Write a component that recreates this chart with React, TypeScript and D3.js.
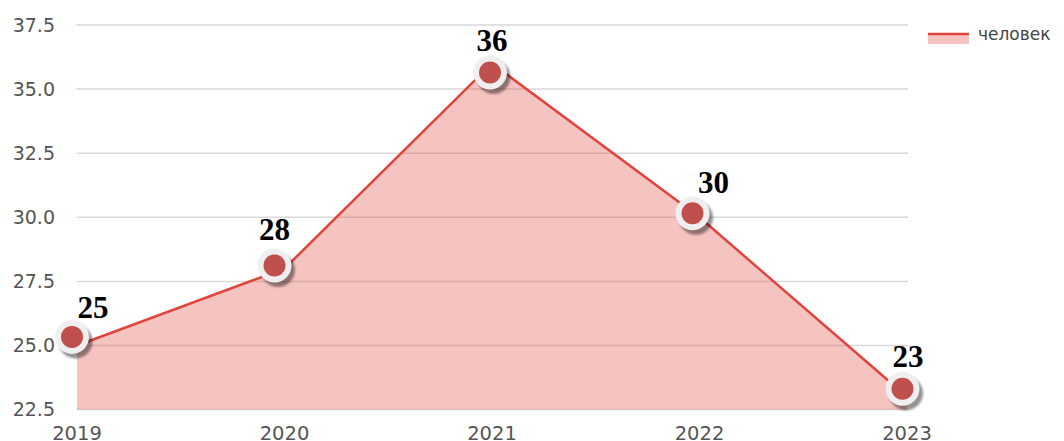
import React from "react";
import * as d3 from "d3";

const years = ["2019", "2020", "2021", "2022", "2023"];
const values = [25, 28, 36, 30, 23];
const seriesName = "человек";
const yTicks = [22.5, 25, 27.5, 30, 32.5, 35, 37.5];
// small per-point nudges (px) as seen in the reference
const markerDx = [-5, -10, -2, -7, -4.5];
const markerDy = [-8.6, -3, 9, -4, -8];
const labelDx = [16, -10, 0, 14, 1];
const labelDy = [-27.6, -28.7, -12, -24, -30];

const W = 1064;
const H = 441;
const LINE = "#e0443c";
const MARK = "#c0504d";

export default function App() {
  const x = d3.scalePoint<string>().domain(years).range([77, 907]);
  const y = d3.scaleLinear().domain([22.5, 37.5]).range([409.6, 25]);
  const pts = years.map((yr, i) => [x(yr) as number, y(values[i])] as [number, number]);
  const line = d3.line()(pts) as string;
  const area = d3
    .area<[number, number]>()
    .x((d) => d[0])
    .y0(y(22.5))
    .y1((d) => d[1])(pts) as string;
  const fmt = d3.format(".1f");

  return (
    <svg
      width={W}
      height={H}
      style={{ position: "fixed", left: 0, top: 0, background: "#fff" }}
    >
      <defs>
        <filter id="sh" x="-50%" y="-50%" width="200%" height="200%">
          <feGaussianBlur stdDeviation="1" />
        </filter>
      </defs>
      {yTicks.map((t) => (
        <g key={t}>
          <line x1={76.5} x2={908} y1={y(t)} y2={y(t)} stroke="#d9d9d9" strokeWidth={1.5} />
          <text
            x={55}
            y={y(t)}
            dy="0.36em"
            textAnchor="end"
            fontFamily="DejaVu Sans"
            fontSize={19}
            fill="#555"
          >
            {fmt(t)}
          </text>
        </g>
      ))}
      {years.map((yr) => (
        <text
          key={yr}
          x={x(yr)}
          y={439.5}
          textAnchor="middle"
          fontFamily="DejaVu Sans"
          fontSize={19.5}
          fill="#555"
        >
          {yr}
        </text>
      ))}
      <path d={area} fill={LINE} fillOpacity={0.32} />
      <path d={line} fill="none" stroke={LINE} strokeWidth={2.5} strokeLinejoin="round" />
      {pts.map((p, i) => {
        const cx = p[0] + markerDx[i];
        const cy = p[1] + markerDy[i];
        return (
          <g key={i}>
            <circle cx={cx + 3.5} cy={cy + 4.5} r={17} fill="#000" fillOpacity={0.42} filter="url(#sh)" />
            <circle cx={cx} cy={cy} r={17} fill="#efefef" />
            <circle cx={cx} cy={cy} r={11} fill={MARK} />
          </g>
        );
      })}
      {pts.map((p, i) => (
        <text
          key={"l" + i}
          x={p[0] + labelDx[i]}
          y={p[1] + labelDy[i]}
          textAnchor="middle"
          fontFamily="Liberation Serif"
          fontWeight="bold"
          fontSize={31}
          fill="#000"
        >
          {values[i]}
        </text>
      ))}
      <g>
        <rect x={928} y={34} width={41} height={10} fill={LINE} fillOpacity={0.32} />
        <line x1={928} x2={969} y1={34} y2={34} stroke={LINE} strokeWidth={2.5} />
        <text x={978} y={39.5} fontFamily="DejaVu Sans" fontSize={17} fill="#444">
          {seriesName}
        </text>
      </g>
    </svg>
  );
}
